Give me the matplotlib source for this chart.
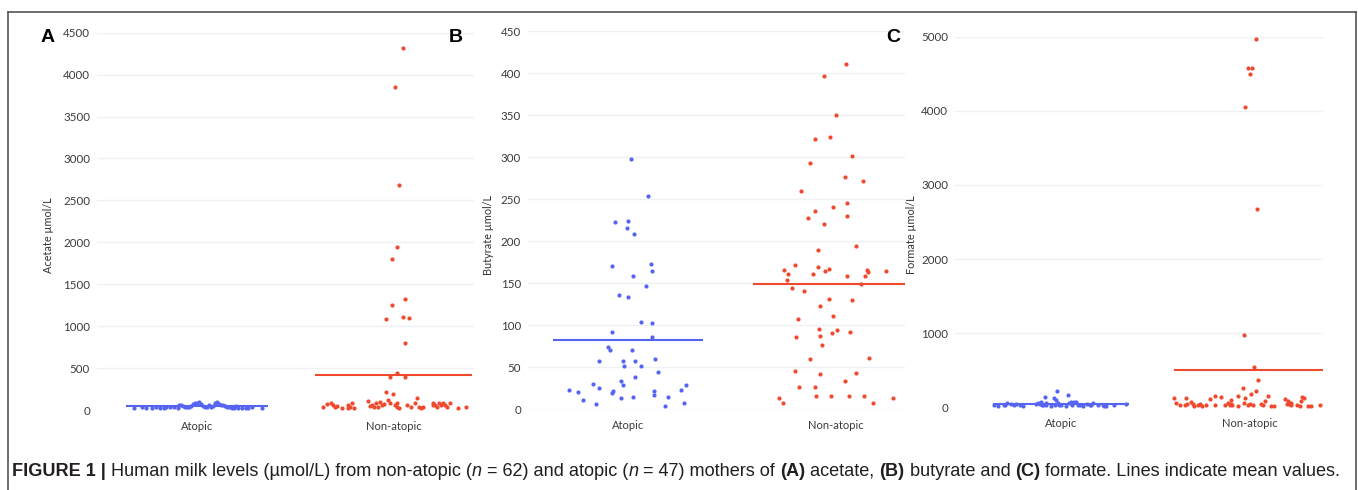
import numpy as np
import matplotlib
matplotlib.use("Agg")
import matplotlib.pyplot as plt
from matplotlib.lines import Line2D

# categories
groups = ["Atopic", "Non-atopic"]

# (A) acetate, umol/L
acetate_atopic = [25, 28, 20, 30, 25, 22, 35, 30, 40, 28, 55, 65, 50, 35, 40, 30,
                  45, 75, 85, 80, 90, 70, 45, 40, 30, 60, 35, 50, 85, 90, 75, 60,
                  55, 45, 40, 35, 30, 25, 28, 22, 20, 25, 20, 30, 28, 30, 45]
acetate_atopic_jit = [-0.32, -0.26, -0.23, -0.21, -0.19, -0.17, -0.16, -0.14, -0.12,
                      -0.10, -0.09, -0.08, -0.07, -0.06, -0.05, -0.04, -0.03, -0.02,
                      -0.01, 0.00, 0.01, 0.02, 0.03, 0.04, 0.05, 0.06, 0.07, 0.08,
                      0.09, 0.10, 0.11, 0.12, 0.13, 0.14, 0.15, 0.16, 0.17, 0.18,
                      0.19, 0.21, 0.23, 0.25, 0.26, 0.28, 0.33, -0.28, 0.20]
acetate_nonatopic = [4321, 3856, 2684, 1940, 1801, 1320, 1256, 1113, 1093, 1081, 803,
                     437, 394, 390,
                     39, 68, 80, 60, 32, 28, 60, 28, 80, 28, 111, 60, 32, 80, 39,
                     99, 60, 218, 119, 87, 187, 60, 32, 80, 60, 147, 80, 39, 28,
                     80, 60, 39, 80, 60, 87, 39, 87, 20, 39,
                     50, 45, 70, 25, 35, 55, 65, 30, 40]
acetate_nonatopic_jit = [0.05, 0.01, 0.03, 0.02, -0.01, 0.06, -0.01, 0.05, 0.08, -0.04,
                         0.06, 0.02, -0.02, 0.06,
                         -0.36, -0.34, -0.32, -0.31, -0.30, -0.26, -0.23, -0.23, -0.21,
                         -0.20, -0.13, -0.11, -0.10, -0.09, -0.08, -0.07, -0.06, -0.04,
                         -0.03, -0.02, 0.00, 0.01, 0.02, 0.02, 0.07, 0.12, 0.11, 0.13,
                         0.14, 0.20, 0.21, 0.22, 0.23, 0.24, 0.25, 0.27, 0.29, 0.33, 0.37,
                         -0.29, -0.12, -0.05, 0.03, 0.09, 0.20, 0.26, -0.22, 0.15]

# (B) butyrate, umol/L
butyrate_atopic = [298, 254, 223, 224, 216, 209, 170, 173, 165, 158, 147, 136, 134,
                   104, 103, 92, 86, 74, 70, 70, 57, 57, 52, 57, 51, 60, 38, 44, 34,
                   29, 30, 25, 22, 19, 23, 21, 11, 6, 13, 15, 22, 17, 4, 15, 23, 29, 7]
butyrate_atopic_jit = [0.014, 0.095, -0.060, 0.000, -0.003, 0.027, -0.076, 0.109, 0.116,
                       0.023, 0.088, -0.043, -0.002, 0.064, 0.116, -0.079, 0.116, -0.098,
                       -0.084, 0.021, -0.137, -0.023, -0.021, 0.035, 0.061, 0.129, 0.032,
                       0.143, -0.035, -0.024, -0.166, -0.137, -0.074, -0.077, -0.283,
                       -0.238, -0.215, -0.154, -0.035, 0.024, 0.127, 0.127, 0.178, 0.193,
                       0.256, 0.278, 0.270]
butyrate_nonatopic = [411, 397, 350, 322, 324, 301, 293, 276, 272, 260, 245, 236, 241,
                      230, 228, 220, 194, 190, 172, 166, 161, 154, 144, 161, 169, 164,
                      167, 159, 166, 163, 159, 165, 149, 141, 131, 123, 130, 111, 107,
                      96, 86, 87, 91, 94, 92, 77, 60, 61, 45, 42, 43, 34, 27, 27, 13, 8,
                      16, 16, 16, 16, 7, 13]
butyrate_nonatopic_jit = [0.047, -0.061, -0.003, -0.101, -0.031, 0.074, -0.124, 0.040,
                          0.129, -0.167, 0.053, -0.103, -0.016, 0.053, -0.138, -0.058,
                          0.096, -0.087, -0.199, -0.251, -0.233, -0.238, -0.214, -0.113,
                          -0.090, -0.056, -0.034, 0.050, 0.148, 0.153, 0.138, 0.240,
                          0.119, -0.153, -0.034, -0.076, 0.074, -0.018, -0.186, -0.082,
                          -0.193, -0.080, -0.021, 0.005, 0.068, -0.069, -0.124, 0.156,
                          -0.199, -0.080, 0.095, 0.042, -0.180, -0.100, -0.277, -0.256,
                          -0.096, -0.027, 0.061, 0.135, 0.175, 0.273]

# (C) formate, umol/L
formate_atopic = [31, 31, 53, 44, 40, 31, 40, 62, 40, 76, 31, 134, 53, 121, 98, 224, 62,
                  31, 166, 53, 67, 76, 67, 31, 44, 31, 53, 31, 22, 40,
                  20, 25, 30, 20, 25, 30, 20, 35, 25, 20, 30, 25, 20, 35, 25, 20, 30]
formate_atopic_jit = [-0.351, -0.293, -0.286, -0.262, -0.239, -0.215, -0.130, -0.121,
                      -0.112, -0.103, -0.094, -0.085, -0.076, -0.037, -0.027, -0.020,
                      -0.014, -0.011, 0.039, 0.044, 0.057, 0.071, 0.083, 0.101, 0.140,
                      0.154, 0.172, 0.225, 0.239, 0.344,
                      -0.33, -0.30, -0.25, -0.20, -0.10, -0.08, -0.05, -0.03, 0.00,
                      0.03, 0.06, 0.09, 0.12, 0.16, 0.20, 0.23, 0.28]
formate_nonatopic = [4964, 4577, 4577, 4496, 4046, 2680, 980, 540, 364,
                     265, 220, 175, 157, 157, 152, 134, 107, 94, 121, 130, 121, 76, 89,
                     107, 89, 143, 130, 89, 53, 31, 44, 22, 44, 22, 31, 31, 53, 26, 31,
                     62, 31, 44, 44, 22, 22, 44, 31, 62, 22, 22, 31,
                     35, 40, 25, 30, 45, 20, 35, 25, 40, 30, 20]
formate_nonatopic_jit = [0.035, -0.009, 0.012, 0.004, -0.021, 0.041, -0.030, 0.025, 0.048,
                         -0.035, 0.037, 0.011, -0.062, 0.099, -0.184, -0.151, -0.211,
                         -0.096, -0.025, -0.397, -0.335, -0.310, 0.085, 0.191, 0.206,
                         0.280, 0.289, 0.271, -0.388, -0.340, -0.332, -0.291, -0.261,
                         -0.252, -0.229, -0.128, -0.113, -0.105, -0.092, -0.030, -0.009,
                         0.005, 0.059, 0.117, 0.129, 0.197, 0.218, 0.222, 0.268, 0.328,
                         0.372,
                         -0.37, -0.30, -0.27, -0.18, -0.10, -0.06, 0.02, 0.07, 0.21,
                         0.25, 0.31]

blue = "#5565f2"
red = "#ef4a2e"
tick_col = "#3a3a3a"
font = ["Lato", "DejaVu Sans"]

panels = [
    dict(letter="A", label="Acetate µmol/L", ymax=4500, step=500,
         data=[(acetate_atopic, acetate_atopic_jit), (acetate_nonatopic, acetate_nonatopic_jit)],
         rect=[97, 32.7, 474, 410], xlim=(-0.51, 1.41), ylab_x=48, letter_x=48),
    dict(letter="B", label="Butyrate µmol/L", ymax=450, step=50,
         data=[(butyrate_atopic, butyrate_atopic_jit), (butyrate_nonatopic, butyrate_nonatopic_jit)],
         rect=[528, 31, 905, 409.3], xlim=(-0.48, 1.33), ylab_x=489, letter_x=456),
    dict(letter="C", label="Formate µmol/L", ymax=5000, step=1000,
         data=[(formate_atopic, formate_atopic_jit), (formate_nonatopic, formate_nonatopic_jit)],
         rect=[955, 36.7, 1323, 407.3], xlim=(-0.56, 1.39), ylab_x=912, letter_x=893),
]

W, H = 1358, 490
fig = plt.figure(figsize=(W / 100, H / 100), dpi=100)

for p in panels:
    x0, y0, x1, y1 = p["rect"]
    ax = fig.add_axes([x0 / W, 1 - y1 / H, (x1 - x0) / W, (y1 - y0) / H])
    ax.set_xlim(*p["xlim"])
    ax.set_ylim(0, p["ymax"])
    ax.set_yticks(np.arange(0, p["ymax"] + 1, p["step"]))
    ax.set_xticks([0, 1])
    ax.set_xticklabels(groups)
    for s in ax.spines.values():
        s.set_visible(False)
    ax.tick_params(length=0, colors=tick_col, labelsize=8.3)
    ax.tick_params(axis="y", pad=5)
    ax.tick_params(axis="x", pad=8, labelsize=8)
    for lab in ax.get_xticklabels() + ax.get_yticklabels():
        lab.set_family(font)
    ax.yaxis.grid(True, color="#eef0f4", lw=1)
    ax.set_axisbelow(True)
    for i, ((vals, jit), col) in enumerate(zip(p["data"], [blue, red])):
        ax.scatter(i + np.array(jit), vals, s=9, color=col, lw=0, zorder=3, clip_on=False)
        half = 0.36 if i == 0 else 0.4
        ax.hlines(np.mean(vals), i - half, i + half, color=col, lw=1.5, zorder=2)
    fig.text(p["ylab_x"] / W, 1 - 235 / H, p["label"], rotation=90, ha="center",
             va="center", fontsize=7.8, color="#333333", family=font)
    fig.text(p["letter_x"] / W, 1 - 38 / H, p["letter"], ha="center", va="center",
             fontsize=14, fontweight="bold", family=["Liberation Sans", "DejaVu Sans"])

# frame around the figure
frame_col = "#555555"
fig.add_artist(Line2D([8 / W, 8 / W], [0, 1 - 12 / H], color=frame_col, lw=1.2))
fig.add_artist(Line2D([8 / W, 1356 / W], [1 - 12 / H, 1 - 12 / H], color=frame_col, lw=1.2))
fig.add_artist(Line2D([1356 / W, 1356 / W], [0, 1 - 12 / H], color=frame_col, lw=1.2))

# caption, built piece by piece for bold / italic parts
cap_font = ["Liberation Sans", "DejaVu Sans"]
pieces = [("FIGURE 1 | ", "bold", "normal"),
          ("Human milk levels (µmol/L) from non-atopic (", "normal", "normal"),
          ("n", "normal", "italic"),
          (" = 62) and atopic (", "normal", "normal"),
          ("n", "normal", "italic"),
          (" = 47) mothers of ", "normal", "normal"),
          ("(A)", "bold", "normal"),
          (" acetate, ", "normal", "normal"),
          ("(B)", "bold", "normal"),
          (" butyrate and ", "normal", "normal"),
          ("(C)", "bold", "normal"),
          (" formate. Lines indicate mean values.", "normal", "normal")]
renderer = fig.canvas.get_renderer()
xpos = 12
for txt, weight, style in pieces:
    t = fig.text(xpos / W, 1 - 471 / H, txt, ha="left", va="center", fontsize=13.1,
                 fontweight=weight, fontstyle=style, family=cap_font, color="#231f20")
    bb = t.get_window_extent(renderer)
    xpos += bb.width

fig.savefig("out.png", dpi=100)
